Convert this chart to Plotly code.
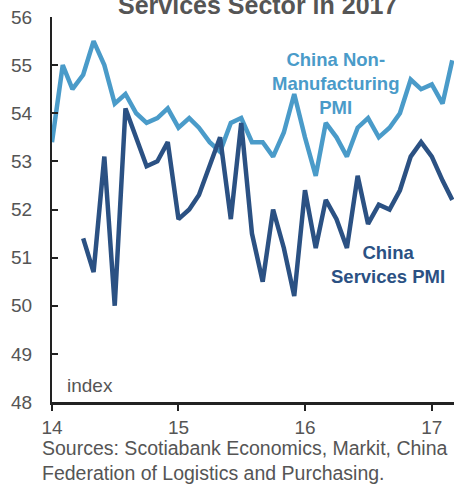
import plotly.graph_objects as go
import pandas as pd

# Monthly PMI readings (index)
nonmfg_start = "2014-01"
nonmfg_pmi = [
    53.4, 55.0, 54.5, 54.8, 55.5, 55.0, 54.2, 54.4, 54.0, 53.8, 53.9, 54.1,
    53.7, 53.9, 53.7, 53.4, 53.2, 53.8, 53.9, 53.4, 53.4, 53.1, 53.6, 54.4,
    53.5, 52.7, 53.8, 53.5, 53.1, 53.7, 53.9, 53.5, 53.7, 54.0, 54.7, 54.5,
    54.6, 54.2, 55.1,
]

services_start = "2014-04"
services_pmi = [
    51.4, 50.7, 53.1, 50.0, 54.1, 53.5, 52.9, 53.0, 53.4,
    51.8, 52.0, 52.3, 52.9, 53.5, 51.8, 53.8, 51.5, 50.5, 52.0, 51.2, 50.2,
    52.4, 51.2, 52.2, 51.8, 51.2, 52.7, 51.7, 52.1, 52.0, 52.4, 53.1, 53.4,
    53.1, 52.6, 52.2,
]

y_ticks = [48, 49, 50, 51, 52, 53, 54, 55, 56]
x_ticks = ["2014-01-01", "2015-01-01", "2016-01-01", "2017-01-01"]

nonmfg_dates = pd.date_range(nonmfg_start, periods=len(nonmfg_pmi), freq="MS")
services_dates = pd.date_range(services_start, periods=len(services_pmi), freq="MS")

LIGHT = "#4a9bc9"
DARK = "#2b5183"
GREY = "#555555"
FONT = "Liberation Sans, Arial, sans-serif"

fig = go.Figure()
fig.add_trace(go.Scatter(x=nonmfg_dates, y=nonmfg_pmi, mode="lines",
                         line=dict(color=LIGHT, width=4.5), showlegend=False))
fig.add_trace(go.Scatter(x=services_dates, y=services_pmi, mode="lines",
                         line=dict(color=DARK, width=4.5), showlegend=False))

fig.update_layout(
    width=454, height=484,
    margin=dict(l=52, r=0, t=17, b=82),
    paper_bgcolor="white", plot_bgcolor="white",
    font=dict(family=FONT, color=GREY, size=19),
    xaxis=dict(
        type="date",
        range=["2014-01-01", "2017-03-06"],
        tickvals=x_ticks, tickformat="%y",
        ticks="outside", ticklen=6, tickwidth=2, tickcolor="#222",
        showline=True, linecolor="#222", linewidth=3,
        showgrid=False, zeroline=False,
        ticklabelstandoff=0,
        tickfont=dict(size=19, color=GREY),
    ),
    yaxis=dict(
        range=[48, 56], tickvals=y_ticks,
        ticks="inside", ticklen=6, tickwidth=2, tickcolor="#222",
        showline=True, linecolor="#222", linewidth=2,
        showgrid=False, zeroline=False,
        ticklabelstandoff=14,
        tickfont=dict(size=19, color=GREY),
    ),
    annotations=[
        dict(text="<b>Services Sector in 2017</b>", xref="paper", yref="paper",
             x=0.51, y=1.03, xanchor="center", yanchor="middle", showarrow=False,
             font=dict(size=25, color=GREY, family=FONT)),
        dict(text="<b>China Non-<br>Manufacturing<br>PMI</b>", xref="paper", yref="paper",
             x=0.704, y=0.826, xanchor="center", yanchor="middle", showarrow=False,
             align="center", font=dict(size=18.5, color=LIGHT, family=FONT)),
        dict(text="<b>China<br>Services PMI</b>", xref="paper", yref="paper",
             x=0.836, y=0.358, xanchor="center", yanchor="middle", showarrow=False,
             align="center", font=dict(size=18.5, color=DARK, family=FONT)),
        dict(text="index", xref="paper", yref="paper",
             x=0.032, y=0.042, xanchor="left", yanchor="middle", showarrow=False,
             font=dict(size=19, color=GREY, family=FONT)),
        dict(text="Sources: Scotiabank Economics, Markit, China<br>Federation of Logistics and Purchasing.",
             xref="paper", yref="paper", x=-0.030, y=-0.153,
             xanchor="left", yanchor="middle", showarrow=False, align="left",
             font=dict(size=19.5, color=GREY, family=FONT)),
    ],
)

fig.write_html("out.html")
